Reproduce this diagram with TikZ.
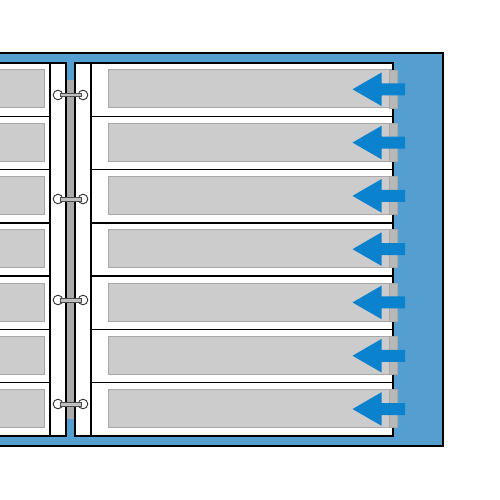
\documentclass[tikz,border=0pt]{standalone}
\usetikzlibrary{calc}
\definecolor{bgblue}{HTML}{549FD0}
\definecolor{arrblue}{HTML}{0A82CD}
\definecolor{pocket}{HTML}{CCCCCC}
\definecolor{pocketline}{HTML}{A8A8A8}
\definecolor{tabgray}{HTML}{B8B8B8}
\definecolor{spinegray}{HTML}{AAAAAA}
\tikzset{
  border/.style={draw=black,line width=1.8pt},
  page/.style={fill=white,draw=black,line width=1.5pt},
  pocketbox/.style={fill=pocket,draw=pocketline,line width=1pt},
  tabbox/.style={fill=tabgray,draw=pocketline,line width=0.8pt},
  arrowshape/.style={fill=arrblue,draw=none},
  ringend/.style={fill=white,draw=black!80,line width=0.9pt},
  ringbar/.style={fill=black!25,draw=black!70,line width=0.8pt},
}
\begin{document}
\begin{tikzpicture}[x=1pt,y=-1pt]
\useasboundingbox (0,0) rectangle (500,500);
% blue cover
\fill[bgblue] (-5,53) rectangle (443,446);
\draw[border] (-5,53) -- (443,53) -- (443,446) -- (-5,446);
% spine gray strip
\fill[spinegray] (66,80) rectangle (75,419);
% left page
\draw[page] (-5,63) rectangle (66,436);
\draw[line width=1.2pt] (50,63) -- (50,436);
% right page
\draw[page] (75,63) rectangle (393,436);
\draw[line width=1.2pt] (91,63) -- (91,436);
\foreach \i in {0,...,6}{
  \pgfmathsetmacro{\yt}{63+\i*53.29}
  \ifnum\i>0
    \draw[line width=1.5pt] (-5,\yt) -- (50,\yt);
    \draw[line width=1.5pt] (91,\yt) -- (393,\yt);
  \fi
  % pockets
  \draw[pocketbox] (-5,\yt+7) rectangle (44,\yt+45);
  \draw[pocketbox] (108,\yt+7) rectangle (391,\yt+45);
  \draw[tabbox] (389,\yt+7) rectangle (397,\yt+45);
  % arrow
  \fill[arrowshape] (352.5,\yt+26.3) -- (381.5,\yt+9.5) -- (381.5,\yt+20.3)
     -- (405,\yt+20.3) -- (405,\yt+32.3) -- (381.5,\yt+32.3) -- (381.5,\yt+43) -- cycle;
}
% rings
\foreach \ry in {95,199,300,404}{
  \draw[ringend] (58,\ry) circle (4.8);
  \draw[ringend] (83,\ry) circle (4.8);
  \draw[ringbar] (60,\ry-1.9) rectangle (81,\ry+1.9);
}
\end{tikzpicture}
\end{document}
